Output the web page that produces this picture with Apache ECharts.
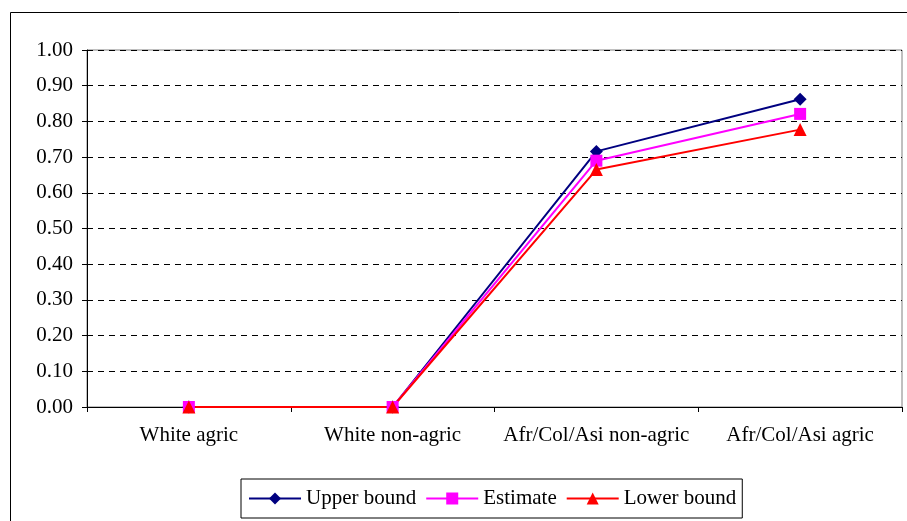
<!DOCTYPE html>
<html>
<head>
<meta charset="utf-8">
<script src="https://cdn.jsdelivr.net/npm/echarts@6/dist/echarts.min.js"></script>
<style>
  html, body { margin: 0; padding: 0; background: #fff; }
  #chart { width: 907px; height: 521px; }
</style>
</head>
<body>
<div id="chart"></div>
<script>
// Categories and the three share series
const categories = ['White agric', 'White non-agric', 'Afr/Col/Asi non-agric', 'Afr/Col/Asi agric'];
const upperBound = [0.00, 0.00, 0.716, 0.862];
const estimate   = [0.00, 0.00, 0.690, 0.821];
const lowerBound = [0.00, 0.00, 0.665, 0.777];
const yTicks = { min: 0, max: 1, interval: 0.1 };

const FONT = '"Liberation Serif", "Times New Roman", serif';
const FONT_SIZE = 21;

const chart = echarts.init(document.getElementById('chart'));

function lineSeries(name, data, color, symbol, size) {
  return {
    name: name,
    type: 'line',
    data: data,
    symbol: symbol,
    symbolSize: size,
    showAllSymbol: true,
    lineStyle: { color: color, width: 2 },
    itemStyle: { color: color },
    animation: false,
    z: 3
  };
}

chart.setOption({
  backgroundColor: '#fff',
  animation: false,
  graphic: [{
    type: 'rect',
    shape: { x: 10.5, y: 12.5, width: 1000, height: 700 },
    style: { fill: 'none', stroke: '#000', lineWidth: 1 },
    silent: true,
    z: 0
  }],
  grid: {
    left: 87, top: 50, right: 5, bottom: 114,
    show: true,
    borderColor: '#808080',
    borderWidth: 1,
    backgroundColor: 'transparent'
  },
  legend: {
    left: 241, top: 479,
    padding: [9, 6, 9, 7],
    itemGap: 9,
    itemWidth: 52,
    itemHeight: 15,
    borderColor: '#000',
    borderWidth: 1,
    textStyle: { fontFamily: FONT, fontSize: FONT_SIZE, color: '#000' },
    data: ['Upper bound', 'Estimate', 'Lower bound']
  },
  xAxis: {
    type: 'category',
    data: categories,
    boundaryGap: true,
    axisLine: { lineStyle: { color: '#000', width: 1 } },
    axisTick: { show: true, length: 5, lineStyle: { color: '#000' } },
    axisLabel: { interval: 0, fontFamily: FONT, fontSize: FONT_SIZE, color: '#000', margin: 18 },
    splitLine: { show: false }
  },
  yAxis: {
    type: 'value',
    min: yTicks.min, max: yTicks.max, interval: yTicks.interval,
    axisLine: { show: true, lineStyle: { color: '#000', width: 1 } },
    axisTick: { show: true, length: 5, lineStyle: { color: '#000' } },
    axisLabel: {
      fontFamily: FONT, fontSize: FONT_SIZE, color: '#000', margin: 14,
      formatter: v => v.toFixed(2)
    },
    splitLine: { show: true, lineStyle: { color: '#000', type: [6, 5], width: 1 } }
  },
  series: [
    lineSeries('Upper bound', upperBound, '#000080', 'diamond', 13),
    lineSeries('Estimate', estimate, '#ff00ff', 'rect', 12),
    lineSeries('Lower bound', lowerBound, '#ff0000', 'triangle', 13)
  ]
});
</script>
</body>
</html>
